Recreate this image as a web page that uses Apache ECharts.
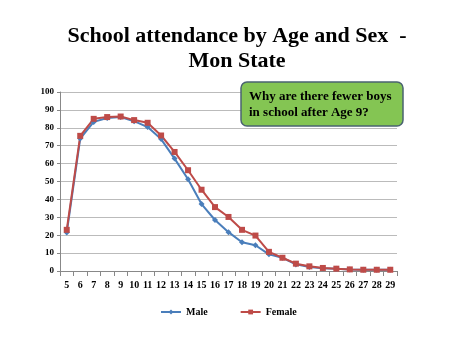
<!DOCTYPE html>
<html><head><meta charset="utf-8">
<script src="https://cdn.jsdelivr.net/npm/echarts@6/dist/echarts.min.js"></script>
<style>html,body{margin:0;padding:0;background:#fff}#c{width:474px;height:355px}</style>
</head><body><div id="c"></div>
<script>
const ages = ['5','6','7','8','9','10','11','12','13','14','15','16','17','18','19','20','21','22','23','24','25','26','27','28','29'];
const male = [21.5,74,83.3,85.5,86,83.7,80.4,73.7,62.8,51.3,37.4,28.5,21.7,16.1,14.4,9.3,7.4,3.7,2.2,1.5,1.2,0.9,0.7,0.7,0.7];
const female = [23,75.5,85,86,86.3,84.3,82.8,75.7,66.5,56.3,45.4,35.7,30.2,23,19.8,10.7,7.4,4.1,2.6,1.7,1.3,0.9,0.7,0.7,0.7];
const yTicks = {min:0, max:100, interval:10};
const serif = '"Liberation Serif","Times New Roman",serif';
const chart = echarts.init(document.getElementById('c'), null, {renderer:'canvas'});
chart.setOption({
  animation:false,
  backgroundColor:'#fff',
  title:{text:'School attendance by Age and Sex  -\nMon State', left:'center', top:19,
    textStyle:{fontFamily:serif, fontWeight:'bold', fontSize:22, color:'#000', lineHeight:25}},
  grid:{left:60, right:77, top:92, bottom:84},
  legend:{top:302, left:155, itemGap:32, itemWidth:20, itemHeight:6,
    textStyle:{fontFamily:serif, fontWeight:'bold', fontSize:10, color:'#000'},
    data:['Male','Female']},
  xAxis:{type:'category', data:ages, boundaryGap:true,
    axisLine:{lineStyle:{color:'#888'}}, axisTick:{show:true, lineStyle:{color:'#888'}},
    axisLabel:{fontFamily:serif, fontWeight:'bold', fontSize:10, color:'#000', margin:9, interval:0}},
  yAxis:{type:'value', min:yTicks.min, max:yTicks.max, interval:yTicks.interval,
    axisLine:{show:true, lineStyle:{color:'#888'}}, axisTick:{show:true, length:3, lineStyle:{color:'#888'}},
    splitLine:{lineStyle:{color:'#bbb'}},
    axisLabel:{fontFamily:serif, fontWeight:'bold', fontSize:9, color:'#000', margin:6}},
  series:[
    {name:'Male', type:'line', data:male, symbol:'diamond', symbolSize:6,
      itemStyle:{color:'#4a7ebb'}, lineStyle:{color:'#4a7ebb', width:2}},
    {name:'Female', type:'line', data:female, symbol:'rect', symbolSize:6,
      itemStyle:{color:'#be4b48'}, lineStyle:{color:'#be4b48', width:2}}
  ],
  graphic:[
    {type:'rect', z:100, shape:{x:241,y:82,width:162,height:44,r:6},
      style:{fill:'#84c553', stroke:'#4a6370', lineWidth:1.5}},
    {type:'text', z:101, x:249, y:89, style:{text:'Why are there fewer boys\nin school after Age 9?',
      font:'bold 13px '+serif, fill:'#000', lineHeight:16}}
  ]
});
</script></body></html>
